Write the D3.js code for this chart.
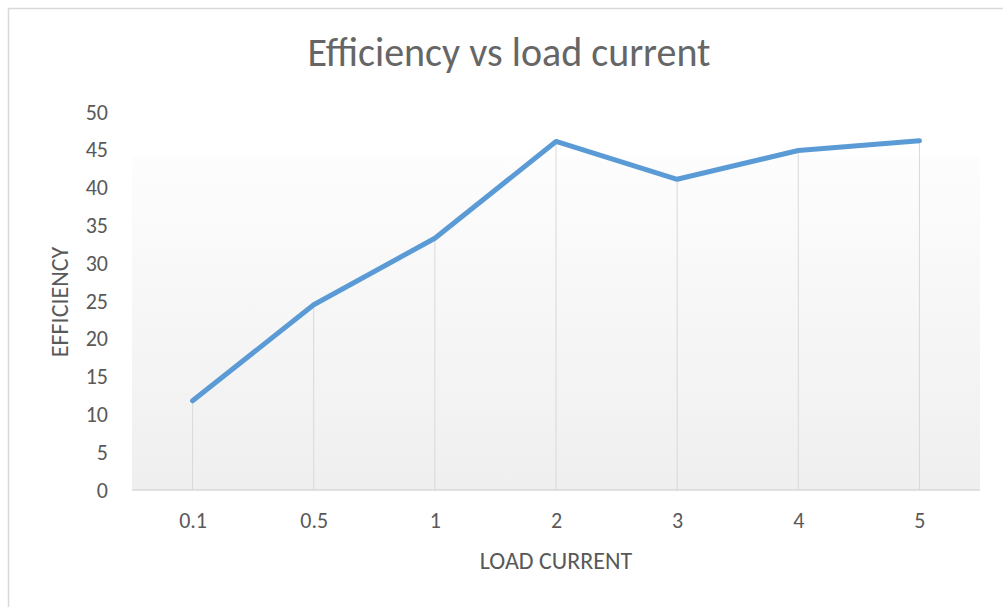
<!DOCTYPE html>
<html>
<head>
<meta charset="utf-8">
<script src="https://cdn.jsdelivr.net/npm/d3@7"></script>
<style>
  html, body { margin: 0; padding: 0; background: #fff; }
  svg { display: block; font-family: Carlito, Calibri, Lato, sans-serif; }
</style>
</head>
<body>
<svg id="chart" width="1003" height="607"></svg>
<script>
const categories = ["0.1", "0.5", "1", "2", "3", "4", "5"];
const efficiency = [11.8, 24.5, 33.3, 46.1, 41.1, 44.9, 46.2];
const yTicks = [0, 5, 10, 15, 20, 25, 30, 35, 40, 45, 50];

const width = 1003, height = 607;
const plot = { left: 132, right: 980, top: 112, bottom: 490, fillTop: 156 };
const textColor = "#595959";
const fontFamily = "Carlito, Calibri, Lato, sans-serif";

const svg = d3.select("#chart");

// chart frame (runs past the right and bottom edges in the screenshot)
svg.append("rect")
    .attr("x", 8.5).attr("y", 8.5)
    .attr("width", width + 20).attr("height", height + 20)
    .attr("fill", "#fff")
    .attr("stroke", "#d9d9d9")
    .attr("stroke-width", 1.5);

const data = categories.map((c, i) => ({ cat: c, value: efficiency[i] }));

const x = d3.scalePoint()
    .domain(categories)
    .range([plot.left, plot.right])
    .padding(0.5);

const y = d3.scaleLinear()
    .domain([0, 50])
    .range([plot.bottom, plot.top]);

// plot area gradient
const grad = svg.append("defs").append("linearGradient")
    .attr("id", "plotFill")
    .attr("x1", 0).attr("y1", 0).attr("x2", 0).attr("y2", 1);
grad.append("stop").attr("offset", "0%").attr("stop-color", "#fdfdfd");
grad.append("stop").attr("offset", "100%").attr("stop-color", "#efefef");

svg.append("rect")
    .attr("x", plot.left)
    .attr("y", plot.fillTop)
    .attr("width", plot.right - plot.left)
    .attr("height", plot.bottom - plot.fillTop)
    .attr("fill", "url(#plotFill)");

// title
svg.append("text")
    .attr("x", 509)
    .attr("y", 66)
    .attr("text-anchor", "middle")
    .attr("fill", "#666")
    .style("font-size", "40px")
    .text("Efficiency vs load current");

// drop lines
svg.append("g")
    .selectAll("line")
    .data(data)
    .join("line")
    .attr("x1", d => x(d.cat)).attr("x2", d => x(d.cat))
    .attr("y1", d => y(d.value)).attr("y2", y(0))
    .attr("stroke", "#d9d9d9")
    .attr("stroke-width", 1);

// x axis
const xAxis = svg.append("g")
    .attr("transform", `translate(0, ${plot.bottom})`)
    .call(d3.axisBottom(x).tickSize(0).tickPadding(0))
    .attr("font-family", fontFamily);
xAxis.select(".domain").remove();
xAxis.append("line")
    .attr("x1", plot.left).attr("x2", plot.right)
    .attr("stroke", "#d9d9d9").attr("stroke-width", 1.5);
xAxis.selectAll("text")
    .attr("y", 38).attr("dy", 0)
    .attr("fill", textColor)
    .style("font-size", "22px");

// y axis
const yAxis = svg.append("g")
    .attr("transform", `translate(${plot.left}, 0)`)
    .call(d3.axisLeft(y).tickValues(yTicks).tickSize(0).tickPadding(24))
    .attr("font-family", fontFamily);
yAxis.select(".domain").remove();
yAxis.selectAll("text")
    .attr("fill", textColor)
    .style("font-size", "22px");

// axis titles
svg.append("text")
    .attr("x", (plot.left + plot.right) / 2)
    .attr("y", 569)
    .attr("text-anchor", "middle")
    .attr("fill", textColor)
    .style("font-size", "24px")
    .text("LOAD CURRENT");

svg.append("text")
    .attr("transform", "translate(68, 302) rotate(-90)")
    .attr("text-anchor", "middle")
    .attr("fill", textColor)
    .style("font-size", "24px")
    .text("EFFICIENCY");

// series line
const line = d3.line()
    .x(d => x(d.cat))
    .y(d => y(d.value));

svg.append("path")
    .datum(data)
    .attr("d", line)
    .attr("fill", "none")
    .attr("stroke", "#5b9bd5")
    .attr("stroke-width", 5)
    .attr("stroke-linejoin", "round")
    .attr("stroke-linecap", "round");
</script>
</body>
</html>
